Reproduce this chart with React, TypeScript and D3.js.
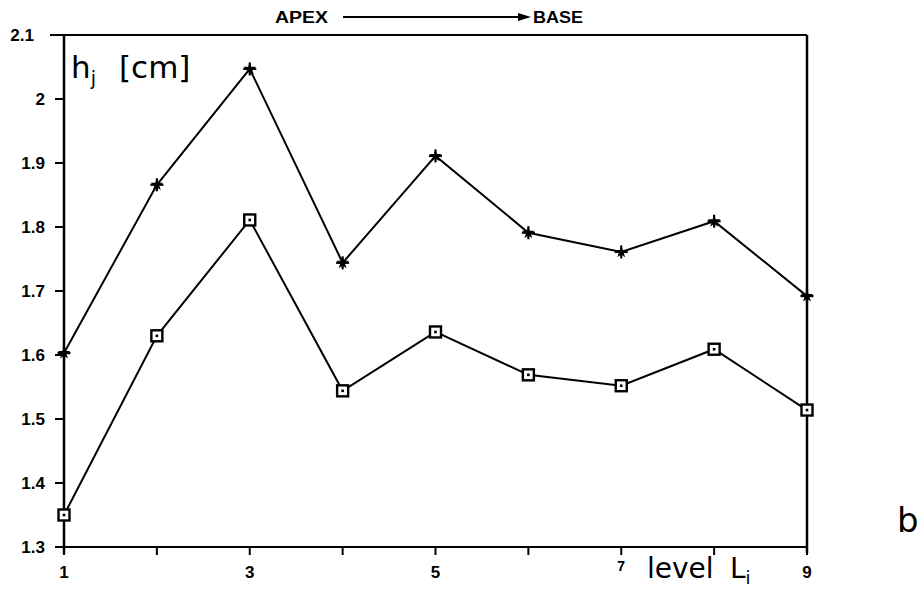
import React from "react";
import * as d3 from "d3";

const levels = [1, 2, 3, 4, 5, 6, 7, 8, 9];
const upperSeries = [1.603, 1.866, 2.047, 1.744, 1.911, 1.791, 1.761, 1.809, 1.692];
const lowerSeries = [1.35, 1.63, 1.811, 1.544, 1.636, 1.569, 1.552, 1.609, 1.514];
const yTicks = [1.3, 1.4, 1.5, 1.6, 1.7, 1.8, 1.9, 2.0, 2.1];
const yTickLabels = ["1.3", "1.4", "1.5", "1.6", "1.7", "1.8", "1.9", "2", "2.1"];
const xLabelLevels = [1, 3, 5, 7, 9];

const W = 918;
const H = 594;
const left = 64;
const right = 807;
const top = 35;
const bottom = 547;

export default function App() {
  const x = d3.scaleLinear().domain([1, 9]).range([left, right]);
  const y = d3.scaleLinear().domain([1.3, 2.1]).range([bottom, top]);
  const line = d3
    .line<number>()
    .x((_, i) => x(levels[i]))
    .y((d) => y(d));
  const star = d3.symbol().type(d3.symbolStar).size(50)() as string;

  const tickFont = { fontFamily: "Liberation Sans, Arial, sans-serif", fontWeight: 700, fontSize: 17 };

  return (
    <svg
      width={W}
      height={H}
      style={{ position: "absolute", left: 0, top: 0, background: "#fff" }}
    >
      <rect x={0} y={0} width={W} height={H} fill="#fff" />
      {/* frame */}
      <line x1={50} x2={right} y1={top} y2={top} stroke="#000" strokeWidth={2} />
      <line x1={right} x2={right} y1={top} y2={bottom + 6} stroke="#000" strokeWidth={2.5} />
      <line x1={left} x2={left} y1={top} y2={bottom + 7} stroke="#000" strokeWidth={2.5} />
      <line x1={left - 8} x2={right} y1={bottom} y2={bottom} stroke="#000" strokeWidth={2} />

      {/* y ticks */}
      {yTicks.map((t, i) => (
        <g key={"yt" + i}>
          <line x1={left - 9} x2={left} y1={y(t)} y2={y(t)} stroke="#000" strokeWidth={2} />
          <text
            x={t === 2.1 ? 34 : 45}
            y={y(t)}
            textAnchor="end"
            dominantBaseline="central"
            {...tickFont}
          >
            {yTickLabels[i]}
          </text>
        </g>
      ))}

      {/* x ticks */}
      {levels.map((l) => (
        <line key={"xt" + l} x1={x(l)} x2={x(l)} y1={bottom} y2={bottom + 8} stroke="#000" strokeWidth={2} />
      ))}
      {xLabelLevels.map((l) => (
        <text
          key={"xl" + l}
          x={x(l)}
          y={l === 7 ? 566 : 572}
          textAnchor="middle"
          dominantBaseline="central"
          {...tickFont}
          fontSize={l === 7 ? 14 : 17}
        >
          {l}
        </text>
      ))}

      {/* series lines */}
      <path d={line(upperSeries) || ""} fill="none" stroke="#000" strokeWidth={2} />
      <path d={line(lowerSeries) || ""} fill="none" stroke="#000" strokeWidth={2} />

      {/* upper markers: asterisk-like */}
      {upperSeries.map((v, i) => (
        <g key={"u" + i} transform={`translate(${x(levels[i])},${y(v)})`}>
          <line x1={-6.5} x2={6.5} y1={0} y2={0} stroke="#000" strokeWidth={2.2} />
          <line x1={0} x2={0} y1={-6.5} y2={6.5} stroke="#000" strokeWidth={2.2} />
          <path d={star} fill="#000" />
        </g>
      ))}

      {/* lower markers: open squares */}
      {lowerSeries.map((v, i) => (
        <g key={"l" + i} transform={`translate(${x(levels[i])},${y(v)})`}>
          <rect x={-5.5} y={-5.5} width={11} height={11} fill="#fff" stroke="#000" strokeWidth={2.4} />
          <rect x={-1.3} y={-1.3} width={2.6} height={2.6} fill="#000" />
        </g>
      ))}

      {/* header */}
      <text x={275} y={23} fontFamily="Liberation Sans, Arial, sans-serif" fontWeight={700} fontSize={16} textLength={53} lengthAdjust="spacingAndGlyphs">
        APEX
      </text>
      <line x1={343} x2={524} y1={17} y2={17} stroke="#000" strokeWidth={1.8} />
      <path d="M518,13 L531,17 L518,21 Z" fill="#000" />
      <text x={533} y={23} fontFamily="Liberation Sans, Arial, sans-serif" fontWeight={700} fontSize={16} textLength={50} lengthAdjust="spacingAndGlyphs">
        BASE
      </text>

      {/* y axis label */}
      <text x={71} y={78} fontFamily="DejaVu Sans, sans-serif" fontSize={31} fill="#000">
        h<tspan fontSize={19} dy={7}>j</tspan>
        <tspan x={119} dy={-7}>[cm]</tspan>
      </text>

      {/* x axis label */}
      <text x={647} y={578} fontFamily="DejaVu Sans, sans-serif" fontSize={28} fill="#000">
        level
        <tspan x={730}>L</tspan>
        <tspan fontSize={18} dy={6}>i</tspan>
      </text>

      <text x={897} y={532} fontFamily="DejaVu Sans, sans-serif" fontSize={34} fill="#000">
        b
      </text>
    </svg>
  );
}
